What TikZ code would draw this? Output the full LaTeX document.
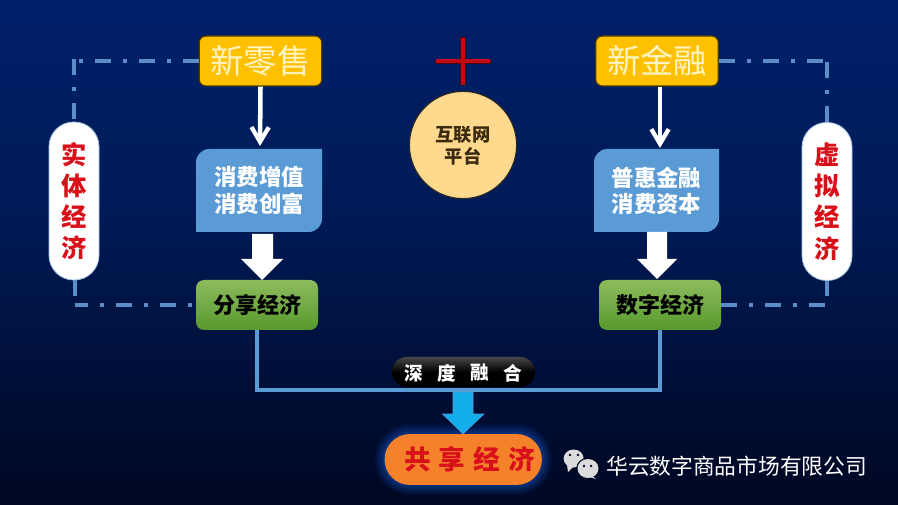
\documentclass[tikz,border=0pt]{standalone}
\usepackage{fontspec}
\setmainfont{Noto Sans CJK SC}
\usetikzlibrary{arrows.meta,calc}
\definecolor{bgTop}{HTML}{00206A}
\definecolor{bgMid}{HTML}{001B58}
\definecolor{bgBot}{HTML}{000722}
\definecolor{linkblue}{HTML}{5B8EC8}
\definecolor{boxblue}{HTML}{5B9BD5}
\definecolor{gold}{HTML}{FFC000}
\definecolor{cream}{HTML}{FFF4C4}
\definecolor{grnT}{HTML}{8DBB5C}
\definecolor{grnB}{HTML}{579A2E}
\definecolor{econred}{HTML}{D8101A}
\definecolor{cyanA}{HTML}{10AEEA}
\definecolor{orangeA}{HTML}{F5812A}
\definecolor{hubfill}{HTML}{FFD98E}
\definecolor{hubtext}{HTML}{3A2A10}
\definecolor{plusred}{HTML}{C00A18}
\definecolor{glowblue}{HTML}{1458C8}
\definecolor{wechat}{HTML}{DCDCDC}
\tikzset{
  x=0.75pt,y=-0.75pt,
  goldbox/.style={fill=gold,draw=black!70!gold,line width=0.9pt,rounded corners=5pt,minimum width=92pt,minimum height=37.5pt,inner sep=0pt,text=cream,font={\fontsize{25pt}{28pt}\selectfont}},
  bluetxt/.style={inner sep=0pt,minimum width=94pt,minimum height=62pt,text=white,align=center,font={\fontsize{16.8pt}{19.6pt}\selectfont\bfseries}},
  greenbox/.style={top color=grnT,bottom color=grnB,rounded corners=6pt,minimum width=91.5pt,minimum height=37.5pt,inner sep=0pt,text=black,font={\fontsize{16.5pt}{19pt}\selectfont\bfseries}},
  econpill/.style={fill=white,draw=boxblue!60!white,line width=0.6pt,rounded corners=18.5pt,minimum width=37.5pt,minimum height=118.5pt,inner sep=0pt,text=econred,align=center,font={\fontsize{19pt}{23.4pt}\selectfont\bfseries}},
  dashlink/.style={draw=linkblue,line width=3pt,dash pattern=on 12pt off 9pt on 3pt off 9pt},
  thinarrow/.style={draw=white,line width=3.4pt,-{Straight Barb[length=11pt,width=13pt,line width=3.2pt]}},
  blockarrow/.style={fill=white},
  joinline/.style={draw=boxblue,line width=3pt},
  spaced/.style={inner sep=0pt,font={\fontsize{#1}{16pt}\selectfont\bfseries}},
}
\begin{document}
\begin{tikzpicture}
\useasboundingbox (0,0) rectangle (898,505);
\fill[top color=bgTop,bottom color=bgMid] (0,0) rectangle (898,200);
\fill[top color=bgMid,bottom color=bgBot] (0,200) rectangle (898,505);

% top row
\node[goldbox] (nr) at (260.5,61) {新零售};
\node[goldbox] (nf) at (657,61) {新金融};

% blue boxes
\fill[boxblue] (196,232) {[rounded corners=10pt] -- (196,149) -- (260,149)} -- (322,149) {[rounded corners=10pt] -- (322,232) -- (260,232)} -- cycle;
\node[bluetxt] (bl) at (259,190.5) {消费增值\\消费创富};
\fill[boxblue] (594,232) {[rounded corners=10pt] -- (594,149) -- (660,149)} -- (719,149) {[rounded corners=10pt] -- (719,232) -- (660,232)} -- cycle;
\node[bluetxt] (br) at (656.5,190.5) {普惠金融\\消费资本};

% green boxes
\node[greenbox] (gl) at (257,305) {分享经济};
\node[greenbox] (gr) at (660,305) {数字经济};

% side pills
\node[econpill] (pl) at (74,201) {实\\体\\经\\济};
\node[econpill] (pr) at (827,201.5) {虚\\拟\\经\\济};

% arrows
\coordinate (tl) at (260,146);
\coordinate (tr) at (660,148);
\draw[thinarrow] (nr.south) -- (tl);
\draw[thinarrow] (nf.south -| tr) -- (tr);
\fill[blockarrow] (252,234) -- (273,234) -- (273,259) -- (283,259) -- (262,280) -- (241,259) -- (252,259) -- cycle;
\fill[blockarrow] (647,232) -- (667,232) -- (667,259) -- (677,259) -- (657,279) -- (637,259) -- (647,259) -- cycle;

% dash-dot links
\coordinate (c1) at (74,61);
\coordinate (c2) at (827,61);
\coordinate (c3) at (75,305);
\coordinate (c4) at (827,305);
\draw[dashlink] (nr.west) -- (c1);
\draw[dashlink] (74,59.5) -- (pl.north);
\draw[dashlink] (nf.east) -- (c2);
\draw[dashlink] (827,62.5) -- (pr.north);
\draw[dashlink,dash phase=18.5pt] (gl.west) -- (c3);
\draw[dashlink] (75,280) -- (75,296);
\draw[dashlink] (gr.east) -- (c4);
\draw[dashlink] (pr.south) -- (827,296);

% joining line
\draw[joinline] (gl.south) -- (257,390) -- (660,390) -- (gr.south);

% merge label
\node[top color=black!72!white,bottom color=black,middle color=black,rounded corners=11pt,minimum width=107pt,minimum height=22.5pt,inner sep=0pt] (mg) at (463.5,372) {};
\foreach \t/\xx in {深/414,度/447,融/480,合/513}{\node[text=white,spaced=14pt] at (\xx,373) {\t};}

% result pill with glow
\foreach \w/\o in {20/0.10,15/0.13,10/0.16,5/0.2}{
  \draw[line width=\w*0.75pt,draw=glowblue,opacity=\o,rounded corners=19pt] (384.5,434) rectangle (542,485);
}
\node[fill=orangeA,rounded corners=19pt,minimum width=118pt,minimum height=38.2pt,inner sep=0pt] (sh) at (463.2,459.5) {};
\foreach \t/\xx in {共/418,享/452,经/487,济/522}{\node[text=econred,spaced=20pt] at (\xx,459.5) {\t};}

% cyan block arrow
\fill[cyanA,draw=boxblue,line width=0.4pt] (453,392) -- (473,392) -- (473,414) -- (484,414) -- (463,434) -- (442.5,414) -- (453,414) -- cycle;

% centre
\fill[black!60!plusred] (435,59) rectangle (491,64.5);
\fill[black!60!plusred] (460,37.5) rectangle (466,85.5);
\fill[plusred] (436,59.5) rectangle (490,63.5);
\fill[plusred] (461,38) rectangle (465,85);
\node[circle,fill=hubfill,draw=black!85,line width=0.9pt,minimum size=80.5pt,inner sep=0pt] (hub) at (463,145) {};
\node[text=hubtext,inner sep=0pt,align=center,font={\fontsize{13.7pt}{16.6pt}\selectfont\bfseries}] (hubt) at (463,146) {互联网\\平台};

% wechat mark
\fill[wechat] (573.6,458.5) ellipse[x radius=10,y radius=9];
\fill[wechat] (567,465) -- (568,472) -- (574,466) -- cycle;
\fill[bgBot] (588,468.5) ellipse[x radius=11.8,y radius=10.8];
\fill[wechat] (588,468.5) ellipse[x radius=10.5,y radius=9.5];
\fill[wechat] (591,475) -- (596,479) -- (586,476) -- cycle;
\fill[bgBot] (570,455) circle (1.4) (578,455) circle (1.4) (584,466) circle (1.3) (591,466) circle (1.3);

\node[text=white,inner sep=0pt,anchor=west,font={\fontsize{16.3pt}{18pt}\selectfont}] (wm) at (606,466) {华云数字商品市场有限公司};
\end{tikzpicture}
\end{document}
